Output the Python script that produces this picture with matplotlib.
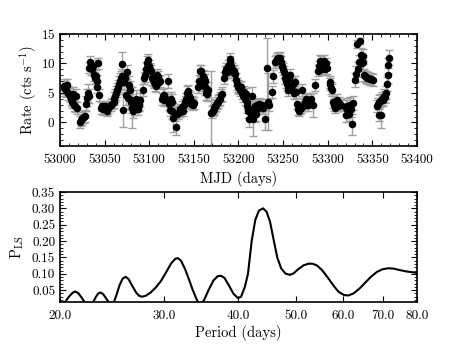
import matplotlib
matplotlib.use('Agg')
import matplotlib.pyplot as plt
from matplotlib.ticker import MultipleLocator, FixedLocator, FormatStrFormatter, NullLocator

# ---- light curve: MJD, rate (cts/s), 1-sigma error ----
mjd = [
    53004, 53005, 53006, 53007, 53008, 53009, 53010, 53011, 53012, 53013, 53014, 53015, 53016, 53017, 53018, 53019,
    53022, 53024, 53025, 53027, 53028, 53029, 53030, 53031, 53032,
    53033, 53034, 53035, 53036, 53037, 53038, 53039, 53040, 53041, 53042, 53043, 53044,
    53046, 53047, 53048, 53049, 53050, 53052, 53053, 53054, 53056, 53057, 53058, 53060, 53061, 53062, 53063, 53064, 53065, 53066, 53067, 53068,
    53069, 53070, 53071, 53072, 53073, 53074, 53075, 53076, 53077, 53078, 53079, 53080, 53081, 53082, 53083, 53084, 53085, 53086, 53087, 53088, 53089, 53090,
    53093, 53094, 53095, 53096, 53097, 53098, 53099, 53100, 53101, 53102, 53103, 53104, 53105, 53106, 53107, 53108, 53109, 53110, 53111, 53112,
    53114, 53115, 53116, 53117, 53118, 53120, 53121, 53122, 53123, 53124, 53125, 53126, 53127, 53129, 53130,
    53131, 53132, 53134, 53135, 53137, 53138, 53139, 53140, 53141, 53142, 53143, 53144, 53145, 53146, 53147, 53148, 53149, 53150,
    53155, 53156, 53157, 53158, 53159, 53160, 53161, 53162, 53163, 53164, 53165, 53166,
    53169, 53170, 53171, 53172, 53173, 53174, 53175, 53176, 53177, 53178, 53179, 53180, 53182,
    53184, 53185, 53186, 53187, 53188, 53189, 53190, 53191, 53192, 53193, 53194, 53195, 53196, 53197, 53198, 53199, 53200, 53201, 53202, 53203, 53204, 53205, 53206, 53207, 53208, 53209, 53210,
    53211, 53212, 53213, 53214, 53215, 53216, 53217, 53218, 53219, 53220, 53221, 53222, 53223, 53224, 53226, 53228, 53230, 53232, 53233, 53234,
    53238, 53239, 53241, 53242, 53243, 53244, 53245, 53246, 53247, 53248, 53249, 53250, 53251, 53252, 53253, 53254, 53255, 53256, 53257, 53258, 53259, 53260, 53261, 53262, 53263, 53264,
    53266, 53267, 53268, 53269, 53270, 53271, 53272, 53273, 53274, 53275, 53276, 53277, 53278, 53279, 53281, 53284,
    53286, 53289, 53290, 53291, 53292, 53293, 53294, 53295, 53296, 53297, 53298, 53299, 53302, 53303, 53304, 53305, 53306, 53307, 53308, 53309, 53310, 53311, 53312, 53313, 53315,
    53320, 53321, 53322, 53323, 53324, 53325, 53326, 53327, 53328, 53331, 53332, 53333, 53334, 53335, 53336, 53337, 53338, 53339, 53340, 53341, 53342, 53343, 53344, 53345, 53347, 53349, 53351,
    53355, 53356, 53357, 53358, 53359, 53360, 53361, 53362, 53363, 53364, 53365, 53366, 53367, 53368, 53369,
]
rate = [
    5.8, 6.2, 6.0, 5.5, 6.3, 5.0, 4.8, 4.5, 4.0, 3.5, 3.8, 4.8, 3.0, 2.7, 4.5, 2.5,
    0.1, 0.4, 0.7, 0.9, 1.1, 3.2, 4.2, 5.0, 4.5,
    9.3, 10.2, 9.2, 9.0, 9.5, 8.0, 7.6, 7.8, 7.0, 6.0, 10.0, 4.7,
    2.5, 2.8, 2.3, 2.6, 2.7, 2.2, 2.0, 2.4, 2.8, 3.0, 3.2, 3.5, 4.0, 4.5, 5.0, 5.5, 6.0, 6.5, 7.0, 7.5,
    9.9, 7.8, 2.1, 6.8, 7.6, 4.7, 8.6, 4.2, 6.3, 5.5, 3.8, 3.5, 2.5, 2.0, 2.3, 3.0, 4.0, 2.8, 2.3, 3.2, 3.0, 3.8,
    5.5, 7.5, 8.0, 9.0, 9.2, 10.0, 10.6, 9.5, 9.0, 8.8, 7.5, 7.2, 6.8, 7.0, 6.5, 6.2, 8.0, 7.7, 6.8, 7.0,
    4.0, 4.5, 3.8, 4.7, 4.2, 3.8, 7.0, 3.2, 2.1, 4.0, 3.5, 2.0, 0.8, 1.5, -0.7,
    1.5, 1.6, 1.8, 2.2, 2.6, 2.0, 3.0, 3.5, 4.0, 5.0, 5.3, 4.5, 3.8, 4.2, 3.2, 3.5, 3.0, 3.3,
    6.0, 7.0, 8.8, 8.8, 6.5, 7.8, 7.5, 7.0, 6.0, 5.0, 4.8, 5.5,
    1.6, 1.8, 2.0, 2.2, 2.5, 2.8, 3.0, 3.3, 3.5, 3.8, 4.0, 4.6, 4.8,
    7.5, 8.5, 9.0, 8.6, 9.5, 9.0, 10.2, 10.7, 9.5, 9.0, 8.5, 8.8, 8.2, 7.2, 6.5, 6.2, 6.0, 5.8, 5.5, 6.0, 5.0, 4.5, 5.2, 4.0, 4.8, 3.5, 2.8,
    2.0, 0.5, 2.0, 1.5, 4.5, 0.5, 2.5, 1.5, 2.8, 1.5, 3.0, 2.5, 3.2, 2.8, 3.0, 2.5, 0.5, 9.2, 3.5, 3.0,
    5.1, 7.8, 10.2, 10.5, 10.8, 11.0, 10.8, 11.0, 10.5, 10.2, 9.5, 9.0, 8.5, 7.5, 7.0, 6.5, 5.5, 6.0, 7.5, 8.0, 6.2, 5.5, 6.5, 5.0, 6.8, 5.2,
    3.2, 2.2, 2.0, 2.3, 2.5, 5.5, 2.8, 3.0, 3.2, 3.5, 4.0, 3.8, 3.0, 3.5, 4.0, 3.0,
    6.3, 8.8, 9.5, 10.5, 9.2, 10.3, 9.0, 9.5, 10.5, 9.0, 10.0, 9.2, 6.8, 6.5, 5.8, 5.5, 3.5, 3.0, 2.5, 3.2, 3.8, 3.0, 2.8, 3.3, 3.0,
    2.5, 1.2, 2.8, 2.0, 1.5, 3.0, 2.2, -0.3, 3.3, 7.2, 8.2, 13.3, 9.0, 10.2, 13.8, 11.5, 10.0, 10.2, 11.2, 8.0, 7.8, 7.7, 7.6, 7.5, 7.4, 7.3, 7.2,
    2.8, 3.2, 3.5, 1.3, 3.7, 1.3, 4.0, 3.8, 4.5, 4.3, 5.0, 6.5, 8.0, 9.7, 11.0,
]
rate_err = [
    1.3, 1.2, 1.1, 1.2, 1.1, 1.2, 1.0, 1.1, 1.0, 1.1, 1.0, 1.2, 1.0, 1.0, 1.1, 1.0,
    1.0, 1.0, 1.1, 1.0, 1.0, 1.3, 1.5, 1.6, 1.2,
    1.0, 1.0, 1.1, 1.0, 1.1, 1.0, 1.0, 1.1, 1.0, 1.0, 1.0, 1.0,
    1.0, 0.9, 1.0, 0.9, 1.0, 0.9, 0.9, 1.0, 0.9, 1.0, 1.0, 1.0, 1.1, 1.1, 1.2, 1.2, 1.2, 1.3, 1.3, 1.3,
    2.0, 1.2, 2.8, 1.3, 1.2, 1.8, 1.2, 2.0, 1.5, 1.5, 2.2, 1.4, 3.5, 1.2, 1.0, 1.2, 1.5, 1.0, 1.0, 1.1, 1.0, 1.2,
    1.0, 1.0, 1.1, 1.2, 1.1, 1.2, 1.0, 1.1, 1.0, 1.0, 1.1, 1.0, 1.0, 1.0, 1.1, 1.0, 1.0, 1.1, 1.0, 1.0,
    1.0, 1.1, 1.0, 1.1, 1.0, 1.0, 1.2, 1.1, 1.0, 1.2, 1.3, 1.5, 2.5, 1.2, 1.5,
    1.0, 1.0, 0.9, 1.0, 1.0, 0.9, 1.0, 1.0, 1.0, 1.1, 1.1, 1.0, 1.0, 1.0, 0.9, 1.0, 0.9, 1.0,
    1.0, 1.1, 1.0, 1.0, 1.2, 1.1, 1.2, 1.2, 1.3, 1.2, 1.2, 1.3,
    7.2, 1.0, 0.9, 1.0, 1.0, 1.0, 1.0, 1.0, 1.1, 1.1, 1.1, 1.1, 1.2,
    1.0, 1.0, 1.1, 1.0, 1.1, 1.0, 1.1, 1.0, 1.0, 1.1, 1.0, 1.0, 1.0, 1.1, 1.0, 1.0, 1.0, 1.0, 1.0, 1.1, 1.0, 1.0, 1.0, 1.1, 1.0, 1.2, 1.2,
    1.2, 1.2, 1.1, 1.3, 1.5, 2.8, 1.2, 1.5, 1.1, 1.2, 1.0, 1.0, 1.0, 1.1, 1.0, 1.0, 1.8, 5.2, 4.8, 1.0,
    1.0, 1.1, 1.0, 0.9, 1.0, 0.9, 1.0, 0.9, 1.0, 1.0, 1.0, 1.0, 1.0, 1.0, 1.1, 1.0, 1.0, 1.0, 1.1, 1.0, 1.0, 1.0, 1.0, 1.1, 1.0, 1.0,
    1.0, 0.9, 0.9, 0.9, 0.9, 1.1, 0.9, 1.0, 1.0, 1.0, 1.0, 1.1, 1.0, 1.0, 1.0, 2.0,
    1.0, 1.0, 1.0, 1.0, 1.0, 1.0, 1.0, 1.0, 1.0, 1.0, 1.0, 1.0, 1.0, 1.0, 1.0, 1.0, 1.0, 1.0, 0.9, 1.0, 1.0, 1.0, 0.9, 1.0, 1.0,
    1.3, 1.2, 1.3, 1.2, 1.2, 1.3, 1.2, 1.8, 1.2, 1.2, 1.3, 0.6, 1.3, 1.2, 0.5, 1.2, 1.2, 1.3, 1.3, 1.0, 1.0, 1.0, 1.0, 1.0, 1.0, 1.0, 1.0,
    1.0, 1.0, 1.1, 1.0, 1.1, 2.3, 1.1, 1.0, 1.1, 1.0, 1.1, 1.2, 1.3, 1.3, 1.3,
]

# ---- Lomb-Scargle periodogram ----
period = [20.0, 20.4, 20.7, 21.0, 21.2, 21.45, 21.7, 22.0, 22.3, 22.5, 22.75, 23.0, 23.2, 23.4,
          23.65, 23.9, 24.15, 24.4, 24.65, 24.9, 25.2, 25.5, 25.8, 26.1, 26.5, 26.9, 27.2, 27.5,
          27.9, 28.4, 29.0, 29.6, 30.2, 30.8, 31.3, 31.6, 32.0, 32.5, 33.0, 33.5, 34.0, 34.3,
          34.6, 35.0, 35.6, 36.3, 36.9, 37.4, 37.9, 38.5, 39.2, 39.9, 40.4, 41.0, 41.5, 42.1,
          42.7, 43.3, 44.0, 44.6, 45.2, 45.9, 46.5, 47.2, 48.0, 48.8, 49.5, 50.5, 51.5, 52.5,
          53.3, 54.2, 55.3, 56.5, 57.8, 59.0, 60.3, 61.3, 62.5, 64.0, 65.5, 67.0, 68.5, 70.0,
          71.5, 73.0, 75.0, 77.0, 80.0]
power = [0.005, 0.014, 0.030, 0.042, 0.046, 0.042, 0.030, 0.014, 0.004, 0.006, 0.014, 0.030, 0.040, 0.043,
         0.038, 0.026, 0.014, 0.006, 0.014, 0.035, 0.065, 0.085, 0.091, 0.084, 0.062, 0.042, 0.033, 0.030,
         0.033, 0.042, 0.058, 0.078, 0.105, 0.132, 0.146, 0.148, 0.140, 0.115, 0.083, 0.050, 0.022, 0.010,
         0.008, 0.020, 0.050, 0.080, 0.093, 0.094, 0.087, 0.066, 0.040, 0.026, 0.030, 0.060, 0.100, 0.200,
         0.265, 0.293, 0.300, 0.290, 0.260, 0.200, 0.150, 0.117, 0.101, 0.097, 0.101, 0.115, 0.126, 0.131,
         0.131, 0.126, 0.112, 0.090, 0.065, 0.045, 0.035, 0.034, 0.040, 0.055, 0.074, 0.092, 0.106, 0.114,
         0.117, 0.116, 0.111, 0.107, 0.103]

period_ticks = [20, 30, 40, 50, 60, 70, 80]

plt.rcParams['font.family'] = 'serif'
plt.rcParams['font.serif'] = ['cmr10']
plt.rcParams['mathtext.fontset'] = 'cm'
plt.rcParams['axes.formatter.use_mathtext'] = True
plt.rcParams['axes.unicode_minus'] = True

fig = plt.figure(figsize=(4.63, 3.48), dpi=100)
ax1 = fig.add_axes([0.1296, 0.5805, 0.771, 0.3218])
ax2 = fig.add_axes([0.1296, 0.1322, 0.771, 0.3161])

# top: light curve
ax1.errorbar(mjd, rate, yerr=rate_err, fmt='none', ecolor='#a0a0a0',
             elinewidth=1.0, capsize=3, capthick=1.0, zorder=1)
ax1.plot(mjd, rate, 'o', color='black', markersize=4.4, zorder=2)
ax1.set_xlim(53000, 53400)
ax1.set_ylim(-4, 15)
ax1.xaxis.set_major_locator(MultipleLocator(50))
ax1.xaxis.set_minor_locator(MultipleLocator(10))
ax1.yaxis.set_major_locator(FixedLocator([0, 5, 10, 15]))
ax1.yaxis.set_minor_locator(MultipleLocator(1))
ax1.xaxis.set_major_formatter(FormatStrFormatter('%d'))
ax1.set_xlabel('MJD (days)', fontsize=10.5, labelpad=3)
ax1.set_ylabel(r'Rate (cts s$^{-1}$)', fontsize=10.5, labelpad=1)

# bottom: periodogram
ax2.plot(period, power, color='black', linewidth=1.5)
ax2.set_xscale('log')
ax2.set_xlim(20, 80)
ax2.set_ylim(0.014, 0.35)
ax2.xaxis.set_major_locator(FixedLocator(period_ticks))
ax2.xaxis.set_minor_locator(NullLocator())
ax2.xaxis.set_major_formatter(FormatStrFormatter('%.1f'))
ax2.yaxis.set_major_locator(FixedLocator([0.05, 0.10, 0.15, 0.20, 0.25, 0.30, 0.35]))
ax2.yaxis.set_minor_locator(MultipleLocator(0.01))
ax2.yaxis.set_major_formatter(FormatStrFormatter('%.2f'))
ax2.set_xlabel('Period (days)', fontsize=10.5, labelpad=2)
ax2.set_ylabel(r'P$_{\rm LS}$', fontsize=10.5, labelpad=4)

for ax in (ax1, ax2):
    ax.tick_params(which='both', direction='in', top=True, right=True, labelsize=9.5)
    ax.tick_params(axis='x', which='major', pad=6)
    ax.tick_params(which='major', length=4, width=0.8)
    ax.tick_params(which='minor', length=2, width=0.6)
    for s in ax.spines.values():
        s.set_linewidth(1.2)

fig.savefig('out.png', dpi=100)
